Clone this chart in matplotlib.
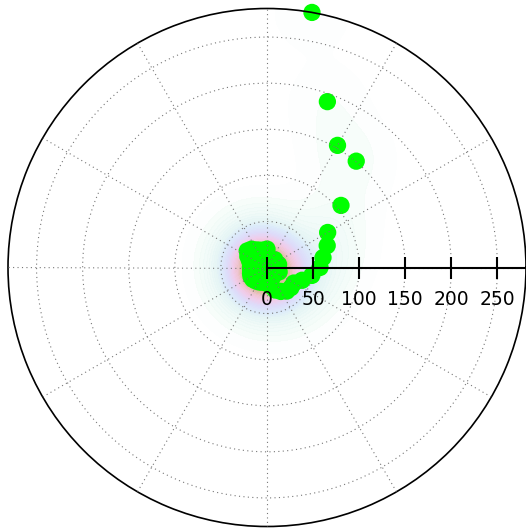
import numpy as np
import matplotlib.pyplot as plt
from matplotlib.colors import LinearSegmentedColormap

# angle (deg) and radius of each point
theta_deg = [0, 10, 20, 30, 40, 50, 60, 70, 80, 90, 100, 110,
             120, 130, 140, 150, 160, 170, 180, 190, 200, 210, 220, 230,
             240, 250, 260, 270, 280, 290, 300, 310, 320, 330, 340, 350]
radius = [57.5, 61.7, 69.5, 76, 104.8, 150.6, 153, 191.5, 281, 20, 19, 20,
          22, 26, 28, 24, 20, 18, 18, 18, 19, 20, 20, 19,
          18, 17, 16, 17, 20, 26, 30, 33.4, 34, 33.7, 40.5, 49.4]
# points hidden inside the central blob
inner_theta_deg = [0, 15, 45, 60, 90, 120, 135, 160, 180, 200, 225, 250, 270, 300, 315, 340]
inner_radius = [4, 13, 12, 8, 9, 14, 11, 10, 8, 12, 11, 9, 7, 12, 9, 14]
rticks = [0, 50, 100, 150, 200, 250]
rmax = 281

theta = np.deg2rad(theta_deg + inner_theta_deg)
r = np.array(radius + inner_radius)

plt.rcParams['axes.axisbelow'] = False

fig = plt.figure(figsize=(5.26, 5.28), dpi=100)
rect = [8 / 526, 1 / 528, 518 / 526, 519 / 528]
ax = fig.add_axes(rect, projection='polar')

# density shading (gaussian kde on the cartesian positions)
px, py = r * np.cos(theta), r * np.sin(theta)
tg, rg = np.meshgrid(np.linspace(0, 2 * np.pi, 361), np.linspace(0, rmax, 240))
gx, gy = rg * np.cos(tg), rg * np.sin(tg)
h = 27.0
z = np.zeros_like(gx)
for x0, y0 in zip(px, py):
    z += np.exp(-((gx - x0) ** 2 + (gy - y0) ** 2) / (2 * h * h))
z /= z.max()

cmap = LinearSegmentedColormap.from_list('kde', [
    (0.00, (1.0, 1.0, 1.0, 0.0)),
    (0.03, (0.95, 0.99, 0.97, 0.6)),
    (0.22, (0.90, 0.96, 0.96, 1.0)),
    (0.30, (0.86, 0.92, 0.98, 1.0)),
    (0.42, (0.87, 0.86, 0.98, 1.0)),
    (0.54, (0.94, 0.80, 0.92, 1.0)),
    (0.64, (0.94, 0.77, 0.82, 1.0)),
    (0.72, (0.87, 0.74, 0.64, 1.0)),
    (1.00, (0.82, 0.73, 0.58, 1.0)),
])
ax.contourf(tg, rg, z, levels=np.linspace(0.01, 1.0, 40), cmap=cmap, zorder=0.5)

ax.scatter(theta, r, s=155, c='#00ff00', edgecolors='none', zorder=1, clip_on=False)

ax.set_ylim(0, rmax)
ax.set_rticks(rticks[1:])
ax.set_thetagrids(range(0, 360, 30))
ax.set_xticklabels([])
ax.set_yticklabels([])
ax.grid(True, color='#777777', linestyle=(0, (1, 3)), linewidth=0.8)
ax.spines['polar'].set_linewidth(1.2)
ax.spines['polar'].set_color('black')

# radial axis drawn as a line with ticks along theta = 0
ax2 = fig.add_axes(rect)
ax2.set_xlim(-rmax, rmax)
ax2.set_ylim(-rmax, rmax)
ax2.set_aspect('equal')
ax2.patch.set_visible(False)
for s in ['top', 'left', 'right']:
    ax2.spines[s].set_visible(False)
ax2.spines['bottom'].set_position(('data', 0))
ax2.spines['bottom'].set_bounds(0, rmax)
ax2.spines['bottom'].set_linewidth(1.5)
ax2.set_xticks(rticks)
ax2.set_xticklabels([str(t) for t in rticks])
ax2.set_yticks([])
ax2.tick_params(axis='x', direction='inout', length=16, width=1.5, labelsize=13.5, pad=8)

fig.savefig('out.png', dpi=100)
